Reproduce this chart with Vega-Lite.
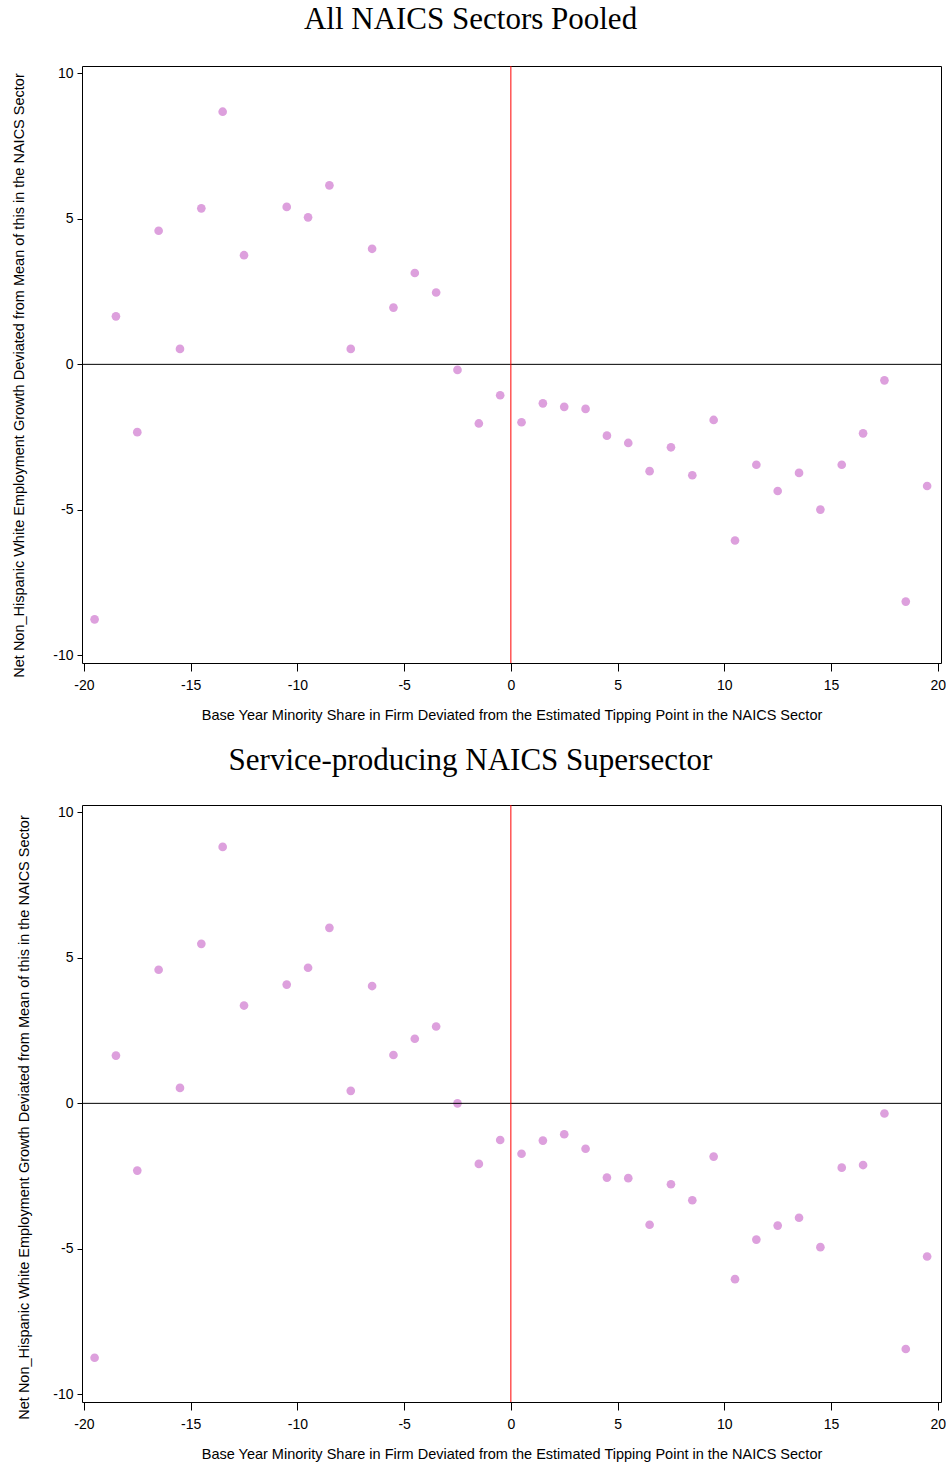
{
  "$schema": "https://vega.github.io/schema/vega-lite/v6.json",
  "padding": {"left": 10, "right": 0, "top": 3, "bottom": 2},
  "background": "white",
  "spacing": 22,
  "datasets": {
    "all": [
      {"x": -19.5, "y": -8.76}, {"x": -18.5, "y": 1.65}, {"x": -17.5, "y": -2.33}, {"x": -16.5, "y": 4.59},
      {"x": -15.5, "y": 0.53}, {"x": -14.5, "y": 5.36}, {"x": -13.5, "y": 8.68}, {"x": -12.5, "y": 3.75},
      {"x": -10.5, "y": 5.41}, {"x": -9.5, "y": 5.05}, {"x": -8.5, "y": 6.15}, {"x": -7.5, "y": 0.53},
      {"x": -6.5, "y": 3.97}, {"x": -5.5, "y": 1.95}, {"x": -4.5, "y": 3.14}, {"x": -3.5, "y": 2.47},
      {"x": -2.5, "y": -0.19}, {"x": -1.5, "y": -2.03}, {"x": -0.5, "y": -1.06}, {"x": 0.5, "y": -1.99},
      {"x": 1.5, "y": -1.34}, {"x": 2.5, "y": -1.46}, {"x": 3.5, "y": -1.53}, {"x": 4.5, "y": -2.45},
      {"x": 5.5, "y": -2.7}, {"x": 6.5, "y": -3.67}, {"x": 7.5, "y": -2.85}, {"x": 8.5, "y": -3.81},
      {"x": 9.5, "y": -1.91}, {"x": 10.5, "y": -6.05}, {"x": 11.5, "y": -3.45}, {"x": 12.5, "y": -4.35},
      {"x": 13.5, "y": -3.73}, {"x": 14.5, "y": -4.99}, {"x": 15.5, "y": -3.45}, {"x": 16.5, "y": -2.37},
      {"x": 17.5, "y": -0.55}, {"x": 18.5, "y": -8.15}, {"x": 19.5, "y": -4.18}
    ],
    "service": [
      {"x": -19.5, "y": -8.74}, {"x": -18.5, "y": 1.64}, {"x": -17.5, "y": -2.31}, {"x": -16.5, "y": 4.59},
      {"x": -15.5, "y": 0.53}, {"x": -14.5, "y": 5.48}, {"x": -13.5, "y": 8.81}, {"x": -12.5, "y": 3.36},
      {"x": -10.5, "y": 4.08}, {"x": -9.5, "y": 4.66}, {"x": -8.5, "y": 6.03}, {"x": -7.5, "y": 0.43},
      {"x": -6.5, "y": 4.03}, {"x": -5.5, "y": 1.66}, {"x": -4.5, "y": 2.22}, {"x": -3.5, "y": 2.64},
      {"x": -2.5, "y": 0.0}, {"x": -1.5, "y": -2.08}, {"x": -0.5, "y": -1.26}, {"x": 0.5, "y": -1.73},
      {"x": 1.5, "y": -1.28}, {"x": 2.5, "y": -1.06}, {"x": 3.5, "y": -1.56}, {"x": 4.5, "y": -2.55},
      {"x": 5.5, "y": -2.57}, {"x": 6.5, "y": -4.17}, {"x": 7.5, "y": -2.78}, {"x": 8.5, "y": -3.33},
      {"x": 9.5, "y": -1.83}, {"x": 10.5, "y": -6.04}, {"x": 11.5, "y": -4.68}, {"x": 12.5, "y": -4.2},
      {"x": 13.5, "y": -3.93}, {"x": 14.5, "y": -4.94}, {"x": 15.5, "y": -2.21}, {"x": 16.5, "y": -2.12},
      {"x": 17.5, "y": -0.35}, {"x": 18.5, "y": -8.44}, {"x": 19.5, "y": -5.26}
    ]
  },
  "config": {
    "view": {"stroke": "#000000", "strokeWidth": 1},
    "axis": {
      "grid": false, "domain": false, "tickColor": "#000000", "labelColor": "#000000", "titleColor": "#000000",
      "labelFont": "Liberation Sans", "titleFont": "Liberation Sans", "labelFontSize": 14, "titleFontSize": 14.5,
      "titleFontWeight": "normal", "labelFlush": false, "labelOverlap": false, "labelBound": false
    },
    "title": {"font": "Liberation Serif", "fontSize": 31, "fontWeight": "normal", "color": "#000000", "anchor": "middle"}
  },
  "vconcat": [
    {
      "title": {"text": "All NAICS Sectors Pooled", "offset": 30, "dx": -41},
      "width": 859,
      "height": 597,
      "layer": [
        {
          "data": {"name": "all"},
          "mark": {"type": "point", "filled": true, "size": 75, "color": "#DDA0DD", "opacity": 1},
          "encoding": {
            "x": {"field": "x", "type": "quantitative",
              "scale": {"domain": [-20.09, 20.15], "nice": false, "zero": false},
              "axis": {"values": [-20, -15, -10, -5, 0, 5, 10, 15, 20], "tickSize": 8, "labelPadding": 7, "titlePadding": 16,
                "labelExpr": "datum.value + ''",
                "title": "Base Year Minority Share in Firm Deviated from the Estimated Tipping Point in the NAICS Sector"}},
            "y": {"field": "y", "type": "quantitative",
              "scale": {"domain": [-10.26, 10.25], "nice": false, "zero": false},
              "axis": {"values": [-10, -5, 0, 5, 10], "tickSize": 5, "labelPadding": 4, "titleX": -56, "titleY": 309,
                "labelExpr": "datum.value + ''",
                "title": "Net Non_Hispanic White Employment Growth Deviated from Mean of this in the NAICS Sector"}}
          }
        },
        {
          "data": {"values": [{"y": 0}]},
          "mark": {"type": "rule", "color": "#000000", "strokeWidth": 1},
          "encoding": {"y": {"field": "y", "type": "quantitative"}}
        },
        {
          "data": {"values": [{"x": 0}]},
          "mark": {"type": "rule", "color": "#FF0000", "strokeWidth": 1},
          "encoding": {"x": {"field": "x", "type": "quantitative"}}
        }
      ]
    },
    {
      "title": {"text": "Service-producing NAICS Supersector", "offset": 28, "dx": -41},
      "width": 859,
      "height": 597,
      "layer": [
        {
          "data": {"name": "service"},
          "mark": {"type": "point", "filled": true, "size": 75, "color": "#DDA0DD", "opacity": 1},
          "encoding": {
            "x": {"field": "x", "type": "quantitative",
              "scale": {"domain": [-20.09, 20.15], "nice": false, "zero": false},
              "axis": {"values": [-20, -15, -10, -5, 0, 5, 10, 15, 20], "tickSize": 8, "labelPadding": 7, "titlePadding": 16,
                "labelExpr": "datum.value + ''",
                "title": "Base Year Minority Share in Firm Deviated from the Estimated Tipping Point in the NAICS Sector"}},
            "y": {"field": "y", "type": "quantitative",
              "scale": {"domain": [-10.26, 10.25], "nice": false, "zero": false},
              "axis": {"values": [-10, -5, 0, 5, 10], "tickSize": 5, "labelPadding": 4, "titleX": -51, "titleY": 312,
                "labelExpr": "datum.value + ''",
                "title": "Net Non_Hispanic White Employment Growth Deviated from Mean of this in the NAICS Sector"}}
          }
        },
        {
          "data": {"values": [{"y": 0}]},
          "mark": {"type": "rule", "color": "#000000", "strokeWidth": 1},
          "encoding": {"y": {"field": "y", "type": "quantitative"}}
        },
        {
          "data": {"values": [{"x": 0}]},
          "mark": {"type": "rule", "color": "#FF0000", "strokeWidth": 1},
          "encoding": {"x": {"field": "x", "type": "quantitative"}}
        }
      ]
    }
  ]
}
